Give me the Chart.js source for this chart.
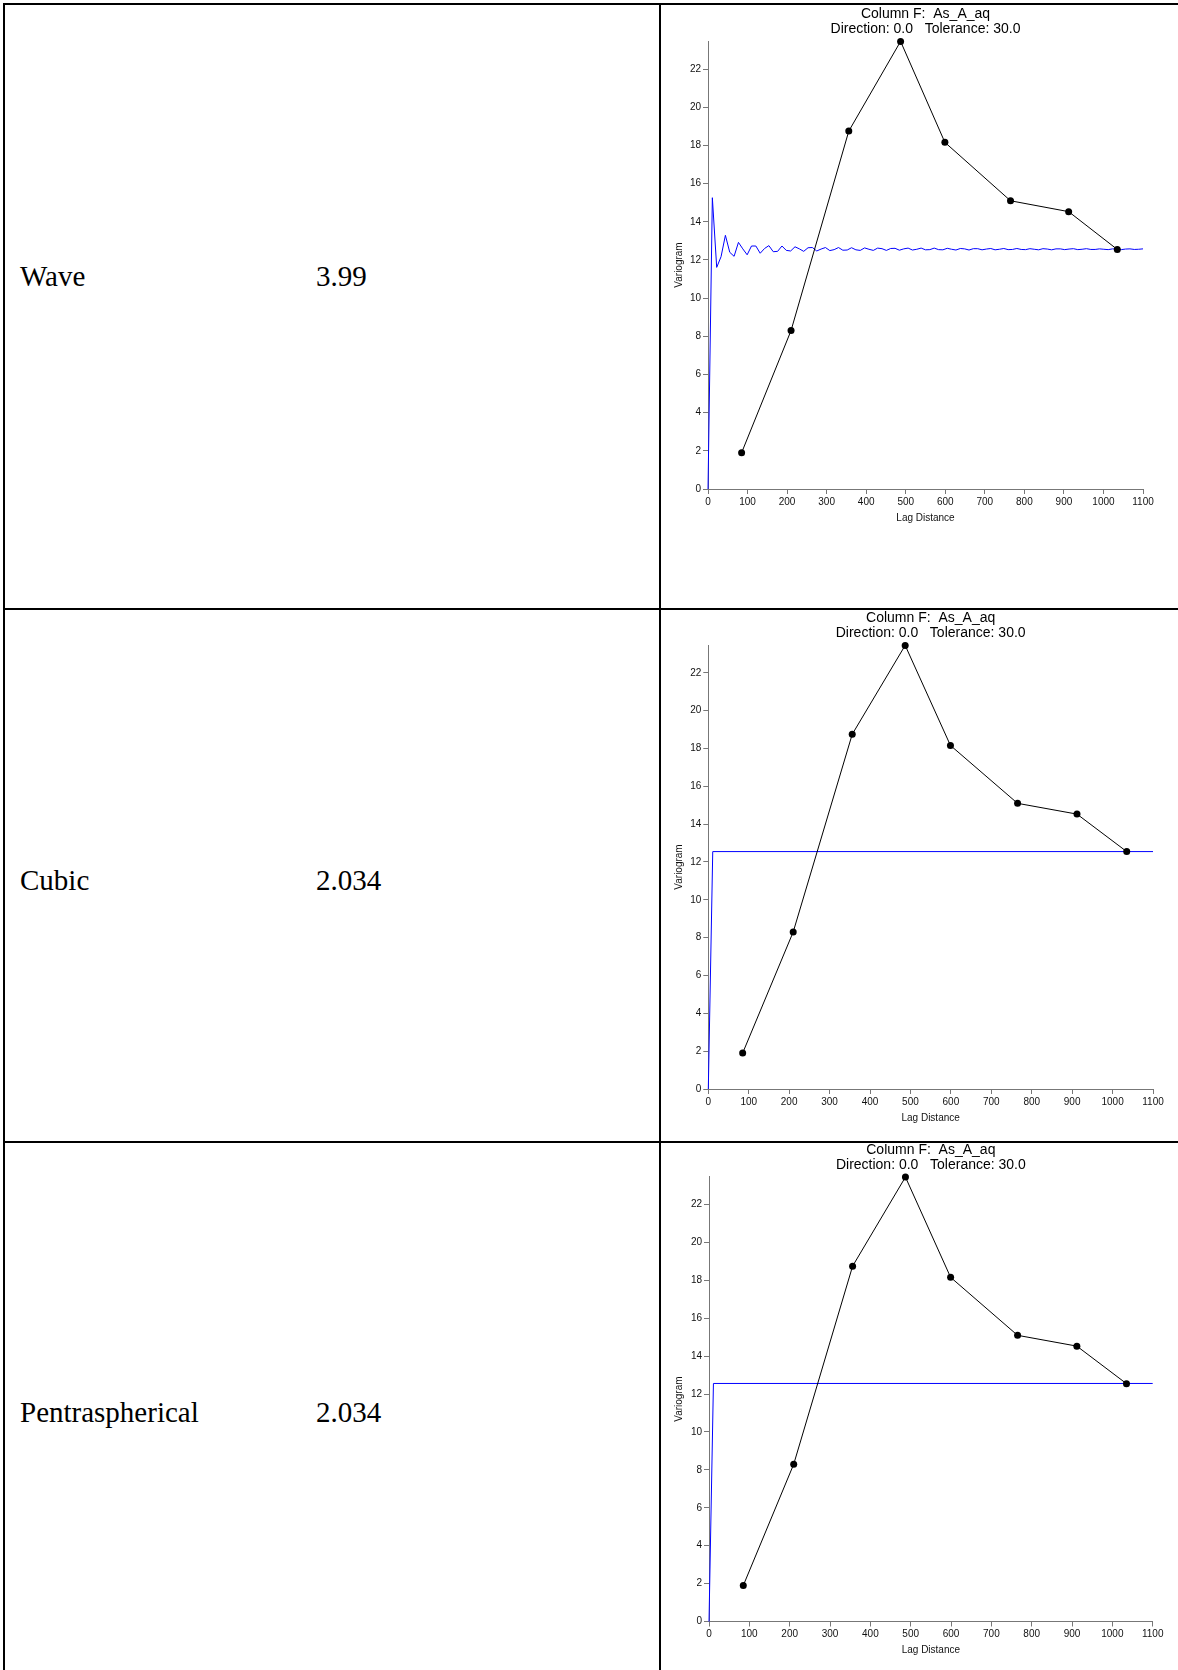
<!DOCTYPE html>
<html>
<head>
<meta charset="utf-8">
<title>Variogram models</title>
<script src="https://cdn.jsdelivr.net/npm/chart.js@4.4.1/dist/chart.umd.min.js"></script>
<style>
    body {
        margin: 0;
        width: 1178px;
        height: 1670px;
        position: relative;
        overflow: hidden;
        background: #fff;
    }
    .rule {
        position: absolute;
        background: #000;
    }
    .cell-text {
        position: absolute;
        font-family: "Liberation Serif", "Times New Roman", serif;
        font-size: 29px;
        line-height: 29px;
        color: #000;
        white-space: nowrap;
    }
    canvas {
        position: absolute;
        left: 662px;
    }
</style>
</head>
<body>

<!-- table rules -->
<div class="rule" style="left:3px; top:3px; width:1175px; height:2px"></div>
<div class="rule" style="left:3px; top:3px; width:2px; height:1667px"></div>
<div class="rule" style="left:659px; top:3px; width:2px; height:1667px"></div>
<div class="rule" style="left:3px; top:608px; width:1175px; height:2px"></div>
<div class="rule" style="left:3px; top:1141px; width:1175px; height:2px"></div>

<div class="cell-text" style="left:20px; top:262px">Wave</div>
<div class="cell-text" style="left:316px; top:262px">3.99</div>
<div class="cell-text" style="left:20px; top:866px">Cubic</div>
<div class="cell-text" style="left:316px; top:866px">2.034</div>
<div class="cell-text" style="left:20px; top:1398px">Pentraspherical</div>
<div class="cell-text" style="left:316px; top:1398px">2.034</div>

<canvas id="chartWave" width="516" height="601" style="top:6px"></canvas>
<canvas id="chartCubic" width="516" height="529" style="top:611px"></canvas>
<canvas id="chartPenta" width="516" height="526" style="top:1144px"></canvas>

<script>
// Experimental variogram (same for all three panels)
const lagDistance = [85, 210, 356, 487, 599, 765, 912, 1035];
const variogram = [1.9, 8.3, 18.75, 23.45, 18.16, 15.1, 14.53, 12.55];

// Wave model curve
const waveLag = [
    0, 11, 22, 33, 44, 55, 66, 77, 88, 99,
    110, 121, 132, 143, 154, 165, 176, 187, 198, 209,
    220, 231, 242, 253, 264, 275, 286, 297, 308, 319,
    330, 341, 352, 363, 374, 385, 396, 407, 418, 429,
    440, 451, 462, 473, 484, 495, 506, 517, 528, 539,
    550, 561, 572, 583, 594, 605, 616, 627, 638, 649,
    660, 671, 682, 693, 704, 715, 726, 737, 748, 759,
    770, 781, 792, 803, 814, 825, 836, 847, 858, 869,
    880, 891, 902, 913, 924, 935, 946, 957, 968, 979,
    990, 1001, 1012, 1023, 1034, 1045, 1056, 1067, 1078, 1089,
    1100
];
const waveGamma = [
    0, 15.26, 11.61, 12.17, 13.29, 12.40, 12.19, 12.92, 12.58, 12.27,
    12.73, 12.73, 12.35, 12.60, 12.75, 12.43, 12.45, 12.73, 12.50, 12.47,
    12.69, 12.58, 12.45, 12.64, 12.65, 12.47, 12.57, 12.65, 12.49, 12.54,
    12.65, 12.51, 12.52, 12.64, 12.53, 12.50, 12.63, 12.56, 12.50, 12.62,
    12.59, 12.50, 12.60, 12.61, 12.51, 12.58, 12.62, 12.52, 12.56, 12.62,
    12.53, 12.54, 12.62, 12.54, 12.53, 12.61, 12.56, 12.52, 12.60, 12.58,
    12.52, 12.59, 12.59, 12.53, 12.57, 12.60, 12.53, 12.56, 12.60, 12.54,
    12.55, 12.60, 12.55, 12.54, 12.59, 12.56, 12.53, 12.59, 12.57, 12.53,
    12.58, 12.58, 12.54, 12.57, 12.59, 12.54, 12.56, 12.59, 12.55, 12.55,
    12.58, 12.56, 12.54, 12.58, 12.57, 12.54, 12.57, 12.58, 12.55, 12.56,
    12.58
];

// Cubic and pentaspherical model curves
const cubicLag = [0, 11, 1100];
const cubicGamma = [0, 12.55, 12.55];
const pentaLag = [0, 11, 1100];
const pentaGamma = [0, 12.56, 12.56];

// Axis ticks
const yMax = 23.47;
const yStep = 2;
const xMax = 1100;
const xStep = 100;

const titleLines = ['Column F:  As_A_aq', 'Direction: 0.0   Tolerance: 30.0'];
const sansFont = '"Liberation Sans", Arial, sans-serif';

// Draws the two-line header centred over the plot area
const plotTitle = {
    id: 'plotTitle',
    afterDraw(chart) {
        const { ctx, chartArea } = chart;
        const x = (chartArea.left + chartArea.right) / 2;
        ctx.save();
        ctx.font = '14px ' + sansFont;
        ctx.fillStyle = '#000';
        ctx.textAlign = 'center';
        ctx.textBaseline = 'middle';
        ctx.fillText(titleLines[0], x, chartArea.top - 27);
        ctx.fillText(titleLines[1], x, chartArea.top - 12);
        ctx.restore();
    }
};

function toPoints(xs, ys) {
    return xs.map((x, i) => ({ x: x, y: ys[i] }));
}

/**
 * Build one variogram panel
 * @param {string} id - canvas id
 * @param {Array} modelLag - model x values
 * @param {Array} modelGamma - model y values
 * @param {Object} box - plot area placement inside the canvas
 */
function makePanel(id, modelLag, modelGamma, box) {
    const ctx = document.getElementById(id).getContext('2d');
    return new Chart(ctx, {
        type: 'scatter',
        data: {
            datasets: [
                {
                    label: 'Experimental',
                    data: toPoints(lagDistance, variogram),
                    showLine: true,
                    borderColor: '#000',
                    borderWidth: 1,
                    pointRadius: 3.5,
                    pointBackgroundColor: '#000',
                    pointBorderWidth: 0,
                    tension: 0,
                    clip: false
                },
                {
                    label: 'Model',
                    data: toPoints(modelLag, modelGamma),
                    showLine: true,
                    borderColor: '#0000ff',
                    borderWidth: 1,
                    pointRadius: 0,
                    tension: 0,
                    clip: false
                }
            ]
        },
        options: {
            responsive: false,
            animation: false,
            events: [],
            layout: {
                padding: { left: 0, top: box.top, right: box.right, bottom: box.bottom }
            },
            plugins: {
                legend: { display: false },
                tooltip: { enabled: false }
            },
            scales: {
                x: {
                    type: 'linear',
                    min: 0,
                    max: xMax,
                    afterFit: scale => { scale.height = 40; },
                    border: { color: '#777', width: 1 },
                    grid: { drawOnChartArea: false, color: '#777', tickLength: 5 },
                    ticks: {
                        stepSize: xStep,
                        padding: 2,
                        maxRotation: 0,
                        autoSkip: false,
                        color: '#111',
                        font: { family: sansFont, size: 10 },
                        callback: value => String(value)
                    },
                    title: {
                        display: true,
                        text: 'Lag Distance',
                        color: '#111',
                        font: { family: sansFont, size: 10, lineHeight: 1.2 },
                        padding: { top: 0, bottom: 5 }
                    }
                },
                y: {
                    type: 'linear',
                    min: 0,
                    max: yMax,
                    afterFit: scale => { scale.width = box.left; },
                    afterBuildTicks: scale => {
                        scale.ticks = scale.ticks.filter(t => t.value % yStep === 0);
                    },
                    border: { color: '#777', width: 1 },
                    grid: { drawOnChartArea: false, color: '#777', tickLength: 5 },
                    ticks: {
                        stepSize: yStep,
                        includeBounds: false,
                        padding: 2,
                        color: '#111',
                        font: { family: sansFont, size: 10 },
                        callback: value => String(value)
                    },
                    title: {
                        display: true,
                        text: 'Variogram',
                        color: '#111',
                        font: { family: sansFont, size: 10, lineHeight: 1.2 },
                        padding: { top: 11, bottom: 0 }
                    }
                }
            }
        },
        plugins: [plotTitle]
    });
}

makePanel('chartWave', waveLag, waveGamma, { left: 46, top: 35, right: 35, bottom: 78 });
makePanel('chartCubic', cubicLag, cubicGamma, { left: 46.3, top: 34, right: 25, bottom: 11 });
makePanel('chartPenta', pentaLag, pentaGamma, { left: 47, top: 32.7, right: 25.3, bottom: 8.5 });
</script>
</body>
</html>
